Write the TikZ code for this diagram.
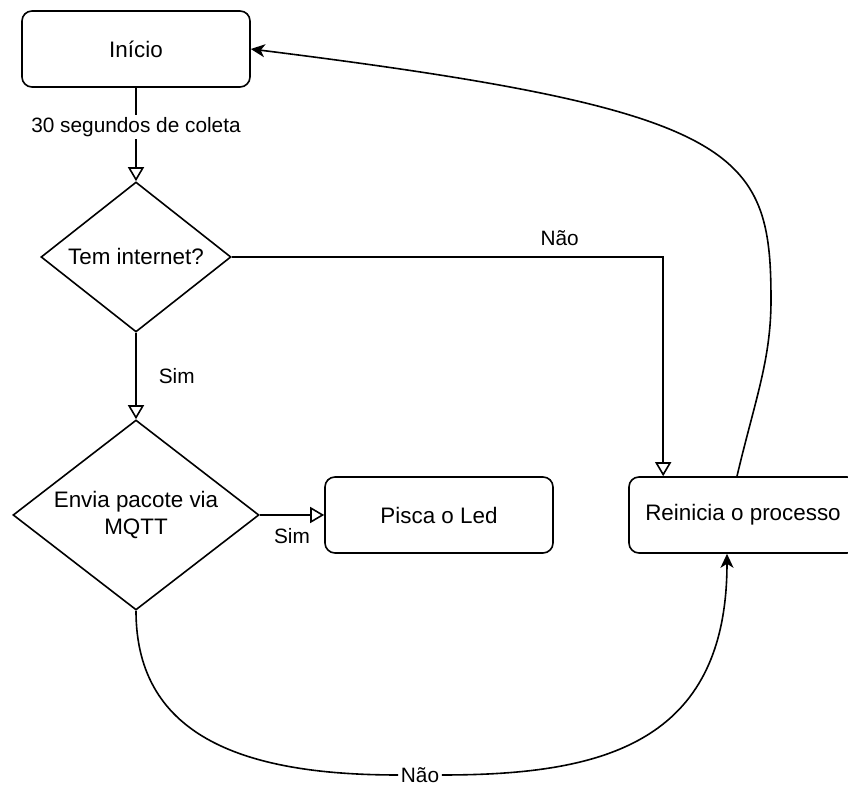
\documentclass[tikz,border=0pt]{standalone}
\usepackage{fontspec}
\setmainfont{Liberation Sans}
\usetikzlibrary{arrows.meta, shapes.geometric, calc}

\begin{document}
\begin{tikzpicture}[x=0.5pt, y=-0.5pt, line width=0.8pt,
	box/.style={draw, rounded corners=5pt, minimum width=114pt, minimum height=38pt, font=\fontsize{11.2}{13.4}\selectfont},
	decision/.style={draw, diamond, inner sep=0pt, align=center, font=\fontsize{11.2}{13.4}\selectfont},
	lbl/.style={font=\fontsize{10.4}{12.5}\selectfont, inner sep=1pt},
	opn/.style={-{Triangle[open, length=7pt, width=8pt]}},
	fil/.style={-{Stealth[length=7pt, width=6.5pt, inset=2pt]}}]
	\useasboundingbox (0,0) rectangle (848,785);
	\node[box] (inicio) at (136,49) {Início};
	\node[decision, aspect=1.27, minimum width=95pt, minimum height=75pt] (tem) at (136,257) {Tem internet?};
	\node[decision, aspect=1.3, minimum width=123pt, minimum height=95pt] (envia) at (136,515) {Envia pacote via\\MQTT};
	\node[box] (pisca) at (439,515) {Pisca o Led};
	\node[box] (reinicia) at (743,515) {Reinicia o processo};
	\node[lbl] (nao) at (420,775) {Não};
	\coordinate (rin) at ($(reinicia.north west)+(35,0)$);
	\coordinate (volta) at (771,300);

	\draw[opn] (inicio) -- node[lbl, fill=white, pos=0.42] {30 segundos de coleta} (tem);
	\draw[opn] (tem.east) -| node[lbl, pos=0.38, above=4pt] {Não} (rin);
	\draw[opn] (tem) -- node[lbl, right=10pt] {Sim} (envia);
	\draw[opn] (envia) -- node[lbl, below=5.5pt] {Sim} (pisca);
	% volta ao inicio
	\draw (envia.south) .. controls (136,740) and (250,775) .. (nao.west);
	\draw[fil] (nao.east) .. controls (600,775) and (727,745) .. ($(reinicia.south)+(-16,0)$);
	\draw[fil] ($(reinicia.north)+(-6,0)$) .. controls (755,400) and (771,360) .. (volta)
		.. controls (771,150) and (740,110) .. (inicio.east);
\end{tikzpicture}
\end{document}
